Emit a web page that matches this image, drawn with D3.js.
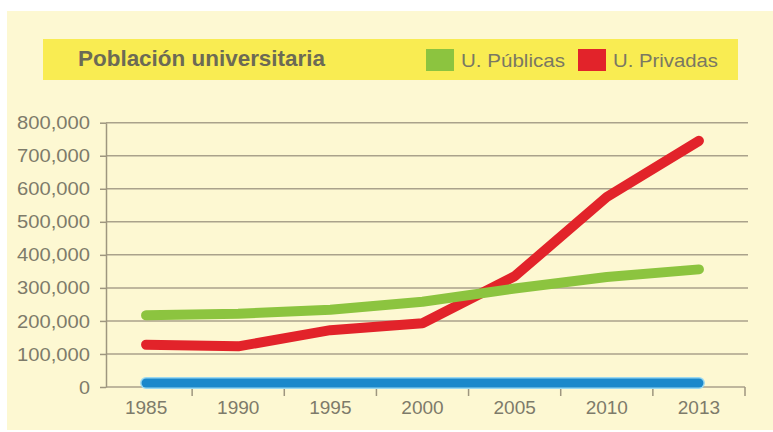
<!DOCTYPE html>
<html>
<head>
<meta charset="utf-8">
<script src="https://cdn.jsdelivr.net/npm/d3@7"></script>
<style>
  body { margin: 0; background: #fff; }
  svg { display: block; font-family: "Liberation Sans", Arial, sans-serif; }
</style>
</head>
<body>
<svg id="chart" width="773" height="432"></svg>
<script>
// data
var years = ["1985", "1990", "1995", "2000", "2005", "2010", "2013"];
var publicas = [217000, 222000, 234000, 258000, 298000, 333000, 356000];
var privadas = [128000, 123000, 172000, 193000, 335000, 575000, 745000];
var otros = [12000, 12000, 12000, 12000, 12000, 12000, 12000];
var yTicks = [0, 100000, 200000, 300000, 400000, 500000, 600000, 700000, 800000];
var legendNames = ["U. Públicas", "U. Privadas"];
var titleText = "Población universitaria";

var svg = d3.select("#chart");

// cream panel
svg.append("rect")
    .attr("x", 7).attr("y", 11)
    .attr("width", 766).attr("height", 419)
    .attr("fill", "#fdf8d2");

// legend band
svg.append("rect")
    .attr("x", 43).attr("y", 39)
    .attr("width", 695).attr("height", 41)
    .attr("fill", "#f9ec52");

svg.append("text")
    .attr("x", 78).attr("y", 66)
    .attr("font-size", "22px")
    .attr("font-weight", "bold")
    .attr("fill", "#6c6a55")
    .attr("textLength", 247)
    .attr("lengthAdjust", "spacingAndGlyphs")
    .text(titleText);

var legendColors = ["#8cc43f", "#e2232a"];
var legendX = [426, 578];
legendNames.forEach(function(name, i) {
    svg.append("rect")
        .attr("x", legendX[i]).attr("y", 49)
        .attr("width", 28).attr("height", 22)
        .attr("fill", legendColors[i]);
    svg.append("text")
        .attr("x", legendX[i] + 35).attr("y", 67)
        .attr("font-size", "19px")
        .attr("fill", "#7a7863")
        .attr("textLength", i === 0 ? 104 : 105)
        .attr("lengthAdjust", "spacingAndGlyphs")
        .text(name);
});

// scales
var xScale = d3.scaleBand()
    .domain(years)
    .range([100, 745]);

var yScale = d3.scaleLinear()
    .domain([0, 800000])
    .range([387, 122.7]);

function cx(d) { return xScale(d) + xScale.bandwidth() / 2; }

// grid lines
svg.append("g")
    .selectAll("line")
    .data(yTicks)
    .enter().append("line")
    .attr("x1", 106)
    .attr("x2", function(d) { return d === 0 ? 745 : 748; })
    .attr("y1", function(d) { return yScale(d); })
    .attr("y2", function(d) { return yScale(d); })
    .attr("stroke", "#aaa28b")
    .attr("stroke-width", 1.5);

// y axis
var gy = svg.append("g")
    .attr("transform", "translate(106,0)")
    .call(d3.axisLeft(yScale).tickValues(yTicks).tickFormat(d3.format(",")).tickSize(6).tickSizeOuter(0));
gy.select(".domain").attr("stroke", "#9e967f").attr("stroke-width", 1.5);
gy.selectAll(".tick line").attr("stroke", "#9e967f").attr("stroke-width", 1.5);
gy.selectAll(".tick text")
    .attr("x", -16)
    .attr("font-size", "19px")
    .attr("font-family", "Liberation Sans, Arial, sans-serif")
    .attr("fill", "#7d7b6a")
    .attr("textLength", function(d) { return d === 0 ? 11 : 73; })
    .attr("lengthAdjust", "spacingAndGlyphs");

// x axis: labels at band centres, ticks on band edges
var gx = svg.append("g")
    .attr("transform", "translate(0,388)")
    .call(d3.axisBottom(xScale).tickSize(0).tickSizeOuter(0));
gx.select(".domain").remove();
gx.selectAll(".tick text")
    .attr("y", 13)
    .attr("font-size", "19px")
    .attr("font-family", "Liberation Sans, Arial, sans-serif")
    .attr("fill", "#7d7b6a");

var edges = years.slice(1).map(function(d) { return xScale(d); });
edges.push(xScale.range()[1]);
svg.append("g")
    .selectAll("line")
    .data(edges)
    .enter().append("line")
    .attr("x1", function(d) { return d; })
    .attr("x2", function(d) { return d; })
    .attr("y1", 387)
    .attr("y2", 396)
    .attr("stroke", "#9e967f")
    .attr("stroke-width", 1.5);

// lines
var line = d3.line()
    .x(function(d, i) { return cx(years[i]); })
    .y(function(d) { return yScale(d); });

function drawSeries(values, color, width) {
    svg.append("path")
        .datum(values)
        .attr("fill", "none")
        .attr("stroke", color)
        .attr("stroke-width", width)
        .attr("stroke-linecap", "round")
        .attr("stroke-linejoin", "round")
        .attr("d", line);
}

drawSeries(otros, "#9ad8f0", 12);
drawSeries(otros, "#1a88cb", 9);
drawSeries(privadas, "#e2232a", 10);
drawSeries(publicas, "#8cc43f", 10);
</script>
</body>
</html>
